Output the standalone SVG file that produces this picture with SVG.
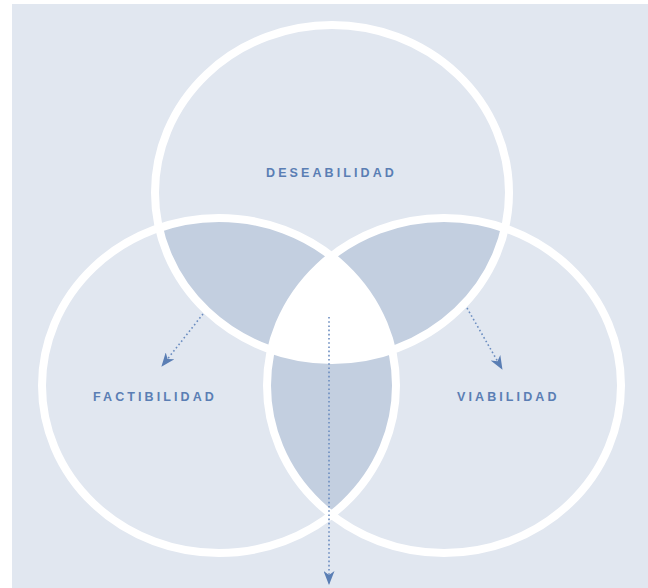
<svg xmlns="http://www.w3.org/2000/svg" width="648" height="588" viewBox="0 0 648 588">
  <style>
    .ring { fill: none; stroke: #ffffff; stroke-width: 8; }
    .lens { fill: #c3cfe0; }
    .core { fill: #ffffff; }
    .label { font-family: "Liberation Sans", Arial, sans-serif; font-weight: bold; font-size: 12.5px; letter-spacing: 3.1px; fill: #5a7eb4; }
    .conn { fill: none; stroke: #6b8dc0; stroke-width: 1.6; stroke-dasharray: 1.6 2.6; }
  </style>
  <defs>
    <clipPath id="cTop"><ellipse cx="332" cy="192.5" rx="177" ry="167.5"/></clipPath>
    <clipPath id="cLeft"><ellipse cx="219" cy="385.5" rx="177" ry="167.5"/></clipPath>
    <clipPath id="cRight"><ellipse cx="444" cy="385.5" rx="177" ry="167.5"/></clipPath>
    <marker id="ah" viewBox="0 0 14 11" markerWidth="14" markerHeight="11" refX="13" refY="5.5" orient="auto" markerUnits="userSpaceOnUse">
      <path d="M0,0 L14,5.5 L0,11 L4,5.5 Z" fill="#5a7eb4"/>
    </marker>
  </defs>

  <rect x="12" y="4" width="636" height="584" fill="#e1e7f0"/>

  <g id="overlaps">
    <ellipse class="lens" cx="332" cy="192.5" rx="177" ry="167.5" clip-path="url(#cLeft)"/>
    <ellipse class="lens" cx="332" cy="192.5" rx="177" ry="167.5" clip-path="url(#cRight)"/>
    <ellipse class="lens" cx="219" cy="385.5" rx="177" ry="167.5" clip-path="url(#cRight)"/>
    <g clip-path="url(#cLeft)">
      <ellipse class="core" cx="332" cy="192.5" rx="177" ry="167.5" clip-path="url(#cRight)"/>
    </g>
  </g>

  <g id="deseabilidad">
    <ellipse class="ring" cx="332" cy="192.5" rx="177" ry="167.5"/>
    <text class="label" x="266" y="177">DESEABILIDAD</text>
  </g>
  <g id="factibilidad">
    <ellipse class="ring" cx="219" cy="385.5" rx="177" ry="167.5"/>
    <text class="label" x="93" y="401">FACTIBILIDAD</text>
  </g>
  <g id="viabilidad">
    <ellipse class="ring" cx="444" cy="385.5" rx="177" ry="167.5"/>
    <text class="label" x="457" y="401">VIABILIDAD</text>
  </g>

  <g id="connectors">
    <line class="conn" x1="203" y1="314" x2="162" y2="366" marker-end="url(#ah)"/>
    <line class="conn" x1="467" y1="308" x2="502" y2="369" marker-end="url(#ah)"/>
    <line class="conn" x1="329" y1="317" x2="329" y2="584" marker-end="url(#ah)"/>
  </g>
</svg>
